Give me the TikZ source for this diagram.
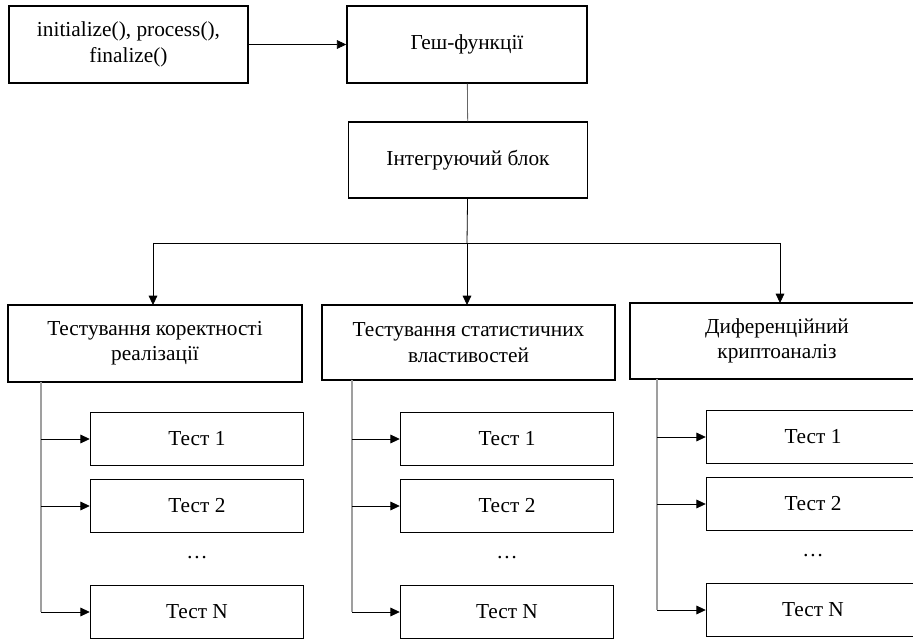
\documentclass[tikz,border=0pt]{standalone}
\usepackage{fontspec}
\setmainfont{Liberation Serif}
\usetikzlibrary{arrows.meta}

\tikzset{
    block/.style={draw, line width=1.1pt, align=center, inner sep=0pt,
        font=\fontsize{16}{19}\selectfont},
    test/.style={block, minimum width=159.75pt, minimum height=40pt},
    link/.style={line width=0.6pt, -{Triangle[length=7pt,width=6.5pt]}},
    spine/.style={line width=0.9pt, gray!75}
}

\begin{document}
\begin{tikzpicture}[x=0.75pt, y=-0.75pt]
    \useasboundingbox (0,0) rectangle (913,641);
    \clip (0,0) rectangle (913,641);

    % top chain
    \node[block, minimum width=179pt, minimum height=57.75pt] (init) at (128.5,44.5)
        {initialize(), process(),\\finalize()};
    \node[block, minimum width=180pt, minimum height=57.75pt] (hash) at (467,44.5)
        {Геш-функції};
    \node[block, minimum width=179pt, minimum height=57pt] (integ) at (468,160)
        {Інтегруючий блок};

    \draw[link] (init) -- (hash);
    \draw[line width=0.6pt, gray!80!black] (hash) -- (integ);

    % first column
    \begin{scope}[shift={(41,0)}]
        \node[block, minimum width=220.5pt, minimum height=57.75pt] (cat1) at (114,343.5)
            {Тестування коректності\\реалізації};
        \node[test] (t11) at (156,439) {Тест 1};
        \node[test] (t12) at (156,506) {Тест 2};
        \node (d1) at (156,558) {\fontsize{16}{19}\selectfont\dots};
        \node[test] (t1n) at (156,612) {Тест N};
        \coordinate (s1) at (0,382);
        \draw[spine] (s1) -- (0,612);
        \draw[link] (0,439) -- (t11);
        \draw[link] (0,506) -- (t12);
        \draw[link] (0,612) -- (t1n);
    \end{scope}

    % second column
    \begin{scope}[shift={(352,0)}]
        \node[block, minimum width=219.75pt, minimum height=56.25pt] (cat2) at (116.5,342.5)
            {Тестування статистичних\\властивостей};
        \node[test] (t21) at (155,439) {Тест 1};
        \node[test] (t22) at (155,506) {Тест 2};
        \node (d2) at (155,558) {\fontsize{16}{19}\selectfont\dots};
        \node[test] (t2n) at (155,612) {Тест N};
        \coordinate (s2) at (0,380);
        \draw[spine] (s2) -- (0,612);
        \draw[link] (0,439) -- (t21);
        \draw[link] (0,506) -- (t22);
        \draw[link] (0,612) -- (t2n);
    \end{scope}

    % third column, runs past the right edge
    \begin{scope}[shift={(657,0)}]
        \node[block, minimum width=220.5pt, minimum height=57pt] (cat3) at (120,341)
            {Диференційний\\криптоаналіз};
        \node[test] (t31) at (156,437) {Тест 1};
        \node[test] (t32) at (156,504) {Тест 2};
        \node (d3) at (156,556) {\fontsize{16}{19}\selectfont\dots};
        \node[test] (t3n) at (156,610) {Тест N};
        \coordinate (s3) at (0,379);
        \draw[spine] (s3) -- (0,610);
        \draw[link] (0,437) -- (t31);
        \draw[link] (0,504) -- (t32);
        \draw[link] (0,610) -- (t3n);
    \end{scope}

    % fork to the three groups
    \coordinate (fork) at (467,243);
    \draw[line width=0.6pt] (integ) -- (fork);
    \draw[line width=0.6pt] (153,243) -- (780,243);
    \draw[link] (153,243) -- (153,305);
    \draw[link] (fork) -- (467,305);
    \draw[link] (780,243) -- (780,303);
\end{tikzpicture}
\end{document}
